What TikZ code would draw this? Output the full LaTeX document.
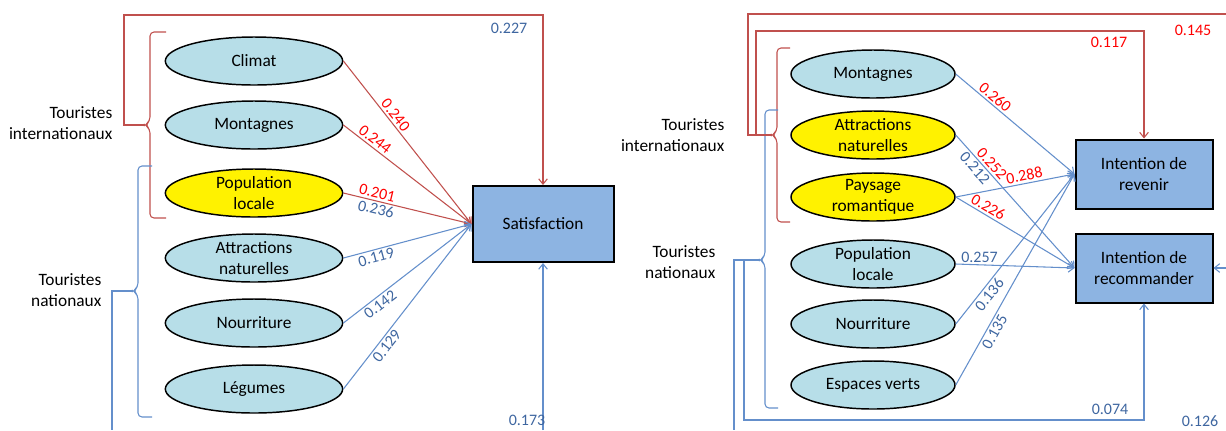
\documentclass[tikz,border=0pt]{standalone}
\usepackage{fontspec}
\setmainfont{Carlito}
\usepackage{tikz}
\usetikzlibrary{shapes.geometric, arrows.meta, positioning, calc}

\definecolor{factorfill}{RGB}{183,222,232}
\definecolor{boxfill}{RGB}{141,180,226}
\definecolor{linered}{RGB}{192,80,77}
\definecolor{lineblue}{RGB}{100,143,203}
\definecolor{numblue}{RGB}{62,102,160}
\definecolor{numred}{RGB}{255,0,0}

\tikzset{
  factor/.style={ellipse, draw=black, line width=1.1pt, fill=factorfill,
    minimum width=133pt, minimum height=36pt, inner xsep=0pt, inner ysep=-2pt,
    align=center, font=\fontsize{13}{16}\selectfont},
  factorhl/.style={factor, fill=yellow},
  outcome/.style={rectangle, draw=black, line width=1.5pt, fill=boxfill,
    align=center, font=\fontsize{13}{16}\selectfont},
  rline/.style={draw=linered, line width=0.8pt},
  bline/.style={draw=lineblue, line width=0.8pt},
  arr/.style={-{Straight Barb[length=4pt,width=6.5pt]}},
  num/.style={font=\fontsize{12}{14}\selectfont, inner sep=1.5pt},
  group/.style={anchor=east, align=right, font=\fontsize{13}{16}\selectfont}
}

\begin{document}
\begin{tikzpicture}[x=0.75pt, y=-0.75pt]
  \useasboundingbox (0,0) rectangle (1226,430);

  % ---------- Left model: satisfaction ----------
  \node[factor] (climat) at (254,61) {Climat};
  \node[factor] (montL) at (254,125) {Montagnes};
  \node[factorhl] (popL) at (254,193) {Population\\locale};
  \node[factor] (attrL) at (254,258) {Attractions\\naturelles};
  \node[factor] (nourL) at (254,323) {Nourriture};
  \node[factor] (legL) at (254,389) {Légumes};

  \node[outcome, minimum width=105.75pt, minimum height=57pt] (sat) at (543,224) {Satisfaction};

  % Group labels
  \node[group] (intL) at (117,123) {Touristes\\internationaux};
  \node[group] (natL) at (106,290) {Touristes\\nationaux};

  % Brackets
  \coordinate (lrtip) at (145,125);
  \coordinate (lbtip) at (133,291);
  \draw[rline, rounded corners=3pt] (166,32) -- (150,32) -- (150,121) -- (lrtip) -- (150,129) -- (150,218) -- (166,218);
  \draw[bline, rounded corners=3pt] (152,166) -- (138,166) -- (138,287) -- (lbtip) -- (138,295) -- (138,417) -- (152,417);

  % Paths
  \draw[rline, arr] (climat.east) -- (sat.west) node[num, text=numred, sloped, above, pos=.36] (w240) {0.240};
  \draw[rline, arr] (montL.east) -- (sat.west) node[num, text=numred, sloped, above, pos=.21] (w244) {0.244};
  \draw[rline, arr] (popL.east) -- (sat.west)
    node[num, text=numred, sloped, above, pos=.25] (w201) {0.201}
    node[num, text=numblue, sloped, below, pos=.27] (w236) {0.236};
  \draw[bline, arr] (attrL.east) -- (sat.west) node[num, text=numblue, sloped, below, pos=.24] (w119) {0.119};
  \draw[bline, arr] (nourL.east) -- (sat.west) node[num, text=numblue, sloped, below, pos=.25] (w142) {0.142};
  \draw[bline, arr] (legL.east) -- (sat.west) node[num, text=numblue, sloped, below, pos=.29] (w129) {0.129};

  % Group effects
  \coordinate (satin) at (543,430);
  \draw[rline, arr] (lrtip) -| (124,15) -| (sat.north);
  \draw[bline] (lbtip) -| (112,430);
  \draw[bline, arr] (satin) -- (sat.south);
  \node[num, text=numblue] (n227) at (509,28) {0.227};
  \node[num, text=numblue] (n173) at (527,420) {0.173};

  % ---------- Right model: intentions ----------
  \node[factor, minimum width=123pt] (montR) at (873,74) {Montagnes};
  \node[factorhl, minimum width=123pt] (attrR) at (873,135) {Attractions\\naturelles};
  \node[factorhl, minimum width=123pt] (paysR) at (873,197) {Paysage\\romantique};
  \node[factor, minimum width=123pt] (popR) at (873,264) {Population\\locale};
  \node[factor, minimum width=123pt] (nourR) at (873,324) {Nourriture};
  \node[factor, minimum width=123pt] (espR) at (873,385) {Espaces verts};

  \node[outcome, minimum width=102.75pt, minimum height=51.75pt] (rev) at (1144,174) {Intention de\\revenir};
  \node[outcome, minimum width=102.75pt, minimum height=51.75pt] (rec) at (1144,268) {Intention de\\recommander};

  % Group labels
  \node[group] (intR) at (729,135) {Touristes\\internationaux};
  \node[group] (natR) at (720,262) {Touristes\\nationaux};

  % Brackets
  \coordinate (rrtip) at (772,135);
  \coordinate (rbtip) at (760,260);
  \draw[rline, rounded corners=3pt] (790,48) -- (777,48) -- (777,131) -- (rrtip) -- (777,139) -- (777,222) -- (790,222);
  \draw[bline, rounded corners=3pt] (778,110) -- (765,110) -- (765,256) -- (rbtip) -- (765,264) -- (765,408) -- (778,408);

  % Paths
  \draw[bline, arr] (montR.east) -- (rev.west) node[num, text=numred, sloped, above, pos=.29] (w260) {0.260};
  \draw[bline, arr] (attrR.east) -- (rec.west)
    node[num, text=numred, sloped, above, pos=.255] (w252) {0.252}
    node[num, text=numblue, sloped, below, pos=.21] (w212) {0.212};
  \draw[bline, arr] (paysR.east) -- (rev.west) node[num, text=numred, sloped, above, pos=.59] (w288) {0.288};
  \draw[bline, arr] (paysR.east) -- (rec.west) node[num, text=numred, sloped, above, pos=.24] (w226) {0.226};
  \draw[bline, arr] (popR.east) -- (rec.west) node[num, text=numblue, above, pos=.2] (w257) {0.257};
  \draw[bline, arr] (nourR.east) -- (rev.west) node[num, text=numblue, sloped, below, pos=.23] (w136) {0.136};
  \draw[bline, arr] (espR.east) -- (rev.west) node[num, text=numblue, sloped, below, pos=.27] (w135) {0.135};

  % Group effects
  \coordinate (rrin) at (756,135);
  \coordinate (rbin) at (744,260);
  \coordinate (redout) at (1226,14);
  \coordinate (recin) at (1226,268);
  \draw[rline] (rrtip) -| (748,14) -- (redout);
  \draw[rline, arr] (rrin) -- (756,31) -| (rev.north);
  \draw[bline] (rbtip) -| (734,430);
  \draw[bline, arr] (rbin) -- (744,420) -| (rec.south);
  \draw[bline, arr] (recin) -- (rec.east);
  \node[num, text=numred] (n117) at (1109,42) {0.117};
  \node[num, text=numred] (n145) at (1193,30) {0.145};
  \node[num, text=numblue] (n074) at (1110,409) {0.074};
  \node[num, text=numblue] (n126) at (1200,421) {0.126};
\end{tikzpicture}
\end{document}
